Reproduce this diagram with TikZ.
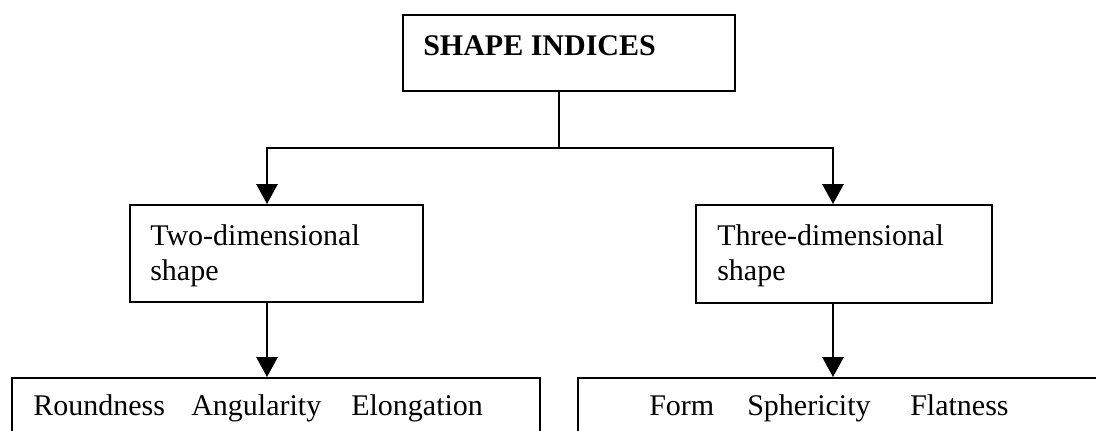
\documentclass[tikz,border=0pt]{standalone}
\usepackage{fontspec}
\setmainfont{Liberation Serif}
\usetikzlibrary{arrows.meta,fit}
\begin{document}
\begin{tikzpicture}[x=0.75pt,y=-0.75pt,
  box/.style={draw, line width=1.5pt, inner sep=0pt, rectangle},
  lbl/.style={inner sep=0pt, font=\fontsize{22.5}{26.25}\selectfont},
  con/.style={line width=1.5pt},
  arr/.style={con, -{Triangle[length=15pt,width=16pt]}}]
\useasboundingbox (0,0) rectangle (1096,430);
\clip (0,0) rectangle (1096,430);
% boxes
\node[box, fit={(403,15) (735,91)}] (top) {};
\node[box, fit={(130,205) (423,302)}] (midL) {};
\node[box, fit={(696,205) (992,303)}] (midR) {};
\node[box, fit={(12,378) (540,470)}] (botL) {};
\node[box, fit={(578,378) (1130,470)}] (botR) {};
% texts
\node[lbl, anchor=base west, font=\fontsize{22.5}{26.25}\selectfont\bfseries] (tTop) at (423,55) {SHAPE INDICES};
\node[lbl, anchor=north west, align=left] (tMidL) at (150,224.5) {Two-dimensional\\shape};
\node[lbl, anchor=north west, align=left] (tMidR) at (717,224.5) {Three-dimensional\\shape};
\node[lbl, anchor=base west] (w1) at (33,415) {Roundness};
\node[lbl, anchor=base west] (w2) at (191,415) {Angularity};
\node[lbl, anchor=base west] (w3) at (351,415) {Elongation};
\node[lbl, anchor=base west] (w4) at (649,415) {Form};
\node[lbl, anchor=base west] (w5) at (747,415) {Sphericity};
\node[lbl, anchor=base west] (w6) at (910,415) {Flatness};
% connectors
\coordinate (j) at (559,148);
\coordinate (aL) at (267,148);
\coordinate (aR) at (833,148);
\draw[con] (j |- top.south) -- (j);
\draw[arr] (j) -| (aL |- midL.north);
\draw[arr] (j) -| (aR |- midR.north);
\draw[arr] (aL |- midL.south) -- (aL |- botL.north);
\draw[arr] (aR |- midR.south) -- (aR |- botR.north);
\end{tikzpicture}
\end{document}
